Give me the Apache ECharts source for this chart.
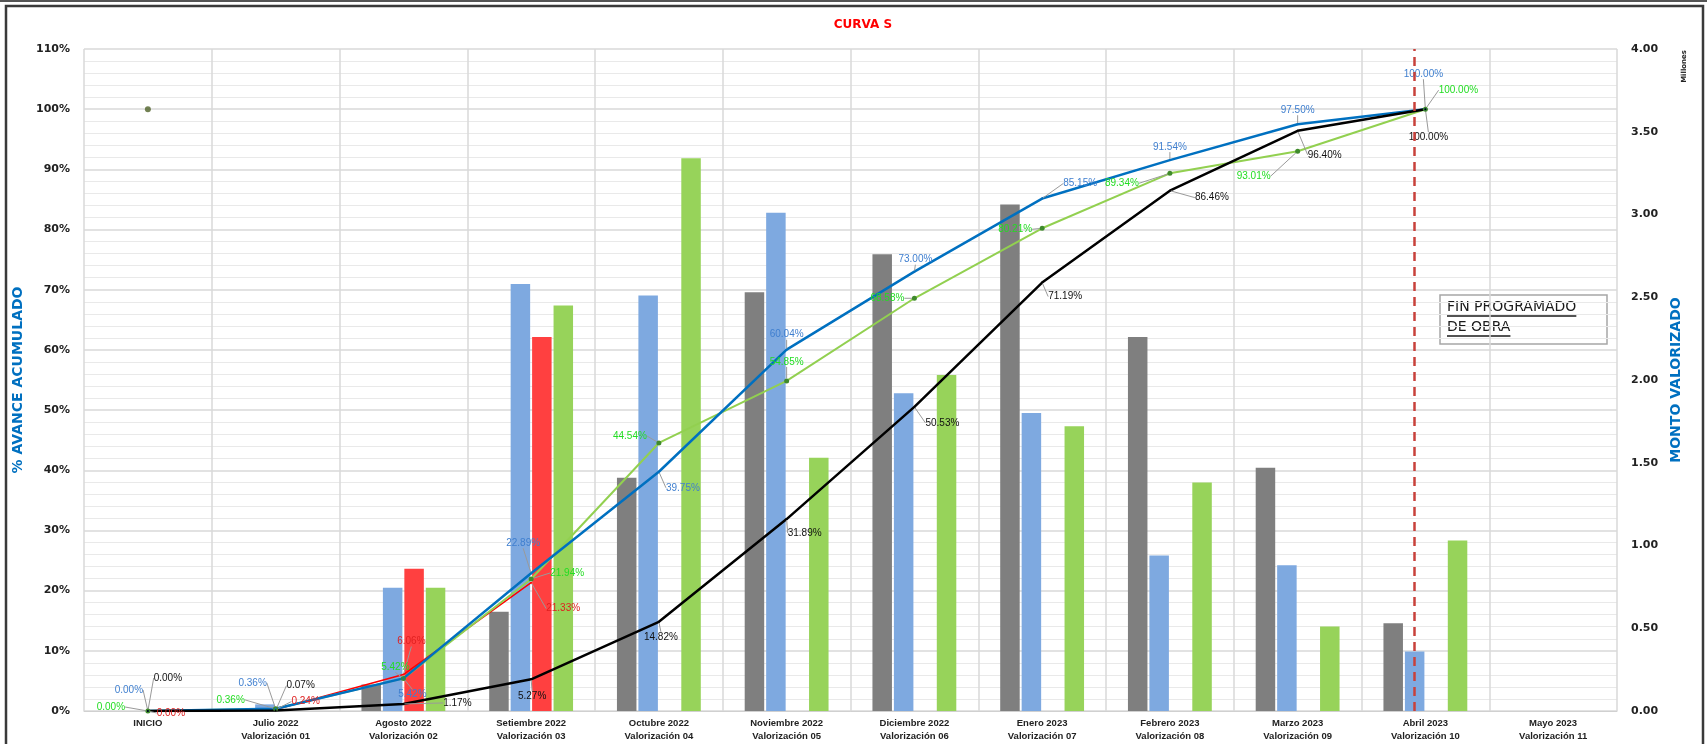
<!DOCTYPE html>
<html><head><meta charset="utf-8">
<script src="https://cdn.jsdelivr.net/npm/echarts@6/dist/echarts.min.js"></script>
<style>html,body{margin:0;padding:0;background:#fff}#c{width:1707px;height:744px}</style>
</head><body><div id="c"></div>
<script>
// ---------- data ----------
const categories = [
  'INICIO',
  'Julio 2022\nValorización 01',
  'Agosto 2022\nValorización 02',
  'Setiembre 2022\nValorización 03',
  'Octubre 2022\nValorización 04',
  'Noviembre 2022\nValorización 05',
  'Diciembre 2022\nValorización 06',
  'Enero 2023\nValorización 07',
  'Febrero 2023\nValorización 08',
  'Marzo 2023\nValorización 09',
  'Abril 2023\nValorización 10',
  'Mayo 2023\nValorización 11'
];
// monthly amounts (millions, right axis)
const barGray  = [null, null, 0.16, 0.60, 1.41, 2.53, 2.76, 3.06, 2.26, 1.47, 0.53, null];
const barBlue  = [null, 0.04, 0.745, 2.58, 2.51, 3.01, 1.92, 1.80, 0.94, 0.88, 0.36, null];
const barRed   = [null, null, 0.86, 2.26, null, null, null, null, null, null, null, null];
const barGreen = [null, null, 0.745, 2.45, 3.34, 1.53, 2.03, 1.72, 1.38, 0.51, 1.03, null];
// cumulative progress (%, left axis)
const lineBlue  = [0.00, 0.36, 5.42, 22.89, 39.75, 60.04, 73.00, 85.15, 91.54, 97.50, 100.00, null];
const lineRed   = [0.00, 0.24, 6.06, 21.33, null, null, null, null, null, null, null, null];
const lineGreen = [0.00, 0.36, 5.42, 21.94, 44.54, 54.85, 68.58, 80.21, 89.34, 93.01, 100.00, null];
const lineBlack = [0.00, 0.07, 1.17, 5.27, 14.82, 31.89, 50.53, 71.19, 86.46, 96.40, 100.00, null];
const pointStart = [100, null, null, null, null, null, null, null, null, null, null, null];
const finIndex = 10; // "FIN PROGRAMADO DE OBRA"
const leftTicks = {min: 0, max: 110, interval: 10};
const rightTicks = {min: 0, max: 4, interval: 0.5};

// ---------- label placement (style) ----------
const offBlue  = [[-19,-21],[-23,-26],[9,16],[-8,-30],[24,16],[0,-15],[1,-12],[38,-15],[0,-13],[0,-14],[-2,-35]];
const offRed   = [[23,2],[30,-8],[8,-33],[32,26]];
const offGreen = [[-37,-4],[-45,-9],[-8,-11],[36,-6],[-29,-7],[0,-19],[-27,0],[-27,1],[-48,10],[-44,25],[33,-19]];
const offBlack = [[20,-33],[25,-25],[54,-1],[1,17],[2,15],[18,14],[28,16],[23,14],[42,7],[27,24],[3,28]];

const FONT = "'DejaVu Sans', sans-serif";
const NARROW = "'Liberation Sans Narrow', 'Liberation Sans', sans-serif";

function lineSeries(name, data, color, width, labelColor, offs, opts) {
  return Object.assign({
    name, type: 'line', data, yAxisIndex: 0, z: 4,
    symbol: 'circle', symbolSize: 2, showSymbol: true,
    itemStyle: {color}, lineStyle: {color, width},
    label: {
      show: true, position: 'inside',
      formatter: p => (p.value == null ? '' : p.value.toFixed(2) + '%'),
      color: labelColor, fontSize: 10, fontFamily: NARROW
    },
    labelLine: {show: true, lineStyle: {color: '#9a9a9a', width: 1}},
    labelLayout: p => {
      const o = offs[p.dataIndex] || [0, 0];
      return {dx: o[0], dy: o[1], hideOverlap: false};
    },
    emphasis: {disabled: true},
    connectNulls: false
  }, opts || {});
}

function barSeries(name, data, color) {
  return {name, type: 'bar', data, yAxisIndex: 1, barWidth: 19.5, barGap: '10%',
    itemStyle: {color}, z: 2, emphasis: {disabled: true}};
}

const chart = echarts.init(document.getElementById('c'));

// measure widths for underlines
const mc = document.createElement('canvas').getContext('2d');
const boxFont = "14px 'DejaVu Sans', sans-serif";
mc.font = boxFont;
const w1 = mc.measureText('FIN PROGRAMADO').width;
const w2 = mc.measureText('DE OBRA').width;

const option = {
  animation: false,
  backgroundColor: '#fff',
  title: {
    text: 'CURVA S', left: 858, top: 14, textAlign: 'center',
    textStyle: {color: '#ff0000', fontSize: 12, fontWeight: 'bold', fontFamily: FONT}
  },
  grid: {left: 84, right: 90, top: 49, bottom: 33, containLabel: false},
  xAxis: {
    type: 'category', data: categories, boundaryGap: true,
    axisLine: {show: true, lineStyle: {color: '#d0d0d0', width: 1}},
    axisTick: {show: false},
    splitLine: {show: true, lineStyle: {color: '#d9d9d9', width: 1.5}},
    axisLabel: {
      interval: 0, margin: 6, fontSize: 9.5, lineHeight: 13,
      color: '#222', fontFamily: NARROW, fontWeight: 'bold'
    }
  },
  yAxis: [
    {
      type: 'value', position: 'left', min: leftTicks.min, max: leftTicks.max, interval: leftTicks.interval,
      name: '% AVANCE ACUMULADO', nameLocation: 'middle', nameGap: 53, nameRotate: 90,
      nameTextStyle: {color: '#0070c0', fontSize: 14, fontWeight: 'bold', fontFamily: FONT},
      axisLine: {show: false}, axisTick: {show: false},
      axisLabel: {formatter: v => v + '%', margin: 14, fontSize: 11, fontWeight: 'bold', color: '#222', fontFamily: FONT},
      splitLine: {show: true, lineStyle: {color: '#d9d9d9', width: 1.5}},
      minorTick: {show: false, splitNumber: 5},
      minorSplitLine: {show: true, lineStyle: {color: '#e9e9e9', width: 1}}
    },
    {
      type: 'value', position: 'right', min: rightTicks.min, max: rightTicks.max, interval: rightTicks.interval,
      name: 'MONTO VALORIZADO', nameLocation: 'middle', nameGap: 50, nameRotate: 90,
      nameTextStyle: {color: '#0070c0', fontSize: 14, fontWeight: 'bold', fontFamily: FONT},
      axisLine: {show: false}, axisTick: {show: false},
      axisLabel: {formatter: v => v.toFixed(2), margin: 14, fontSize: 11, fontWeight: 'bold', color: '#222', fontFamily: FONT},
      splitLine: {show: false}
    }
  ],
  series: [
    barSeries('Programado mensual', barGray, '#7f7f7f'),
    Object.assign(barSeries('Valorizado mensual', barBlue, '#7ea9e0'), {
      markLine: {
        silent: true, symbol: 'none', label: {show: false},
        lineStyle: {color: '#c8413b', width: 2.5, type: [9, 6]},
        data: [{xAxis: categories[finIndex]}]
      }
    }),
    barSeries('Reprogramado mensual', barRed, '#ff4040'),
    barSeries('Acelerado mensual', barGreen, '#97d35a'),
    lineSeries('Reprogramado acumulado', lineRed, '#ff0000', 1.5, '#e02020', offRed),
    lineSeries('Acelerado acumulado', lineGreen, '#92d050', 2, '#22dd22', offGreen,
      {symbolSize: 5, itemStyle: {color: '#3f8a2c'}}),
    lineSeries('Valorizado acumulado', lineBlue, '#0070c0', 2.5, '#3f7fcf', offBlue),
    lineSeries('Programado acumulado', lineBlack, '#000000', 2.5, '#111111', offBlack),
    {
      name: 'Inicio', type: 'scatter', data: pointStart, yAxisIndex: 0, symbolSize: 6,
      itemStyle: {color: '#4f6228'}, z: 5, emphasis: {disabled: true}
    }
  ],
  graphic: [
    {type: 'line', shape: {x1: 0, y1: 1, x2: 1707, y2: 1}, style: {stroke: '#555', lineWidth: 2}, silent: true},
    {type: 'rect', shape: {x: 6, y: 6, width: 1697, height: 800}, style: {fill: 'none', stroke: '#3a3a3a', lineWidth: 2.5}, silent: true},
    {type: 'text', left: 1681, top: 50, rotation: Math.PI / 2,
      style: {text: 'Millones', fill: '#222', font: "bold 7px 'DejaVu Sans', sans-serif"}, silent: true},
    {type: 'group', z: 100, children: [
      {type: 'rect', shape: {x: 1440, y: 295, width: 167, height: 49},
        style: {fill: 'rgba(255,255,255,0.85)', stroke: '#a6a6a6', lineWidth: 1.5}},
      {type: 'text', x: 1447, y: 307, style: {text: 'FIN PROGRAMADO', fill: '#1a1a1a', font: boxFont, verticalAlign: 'middle', align: 'left'}},
      {type: 'line', shape: {x1: 1447, y1: 316, x2: 1447 + w1, y2: 316}, style: {stroke: '#1a1a1a', lineWidth: 1.5}},
      {type: 'text', x: 1447, y: 327, style: {text: 'DE OBRA', fill: '#1a1a1a', font: boxFont, verticalAlign: 'middle', align: 'left'}},
      {type: 'line', shape: {x1: 1447, y1: 336, x2: 1447 + w2, y2: 336}, style: {stroke: '#1a1a1a', lineWidth: 1.5}}
    ]}
  ]
};
chart.setOption(option);
</script>
</body></html>
